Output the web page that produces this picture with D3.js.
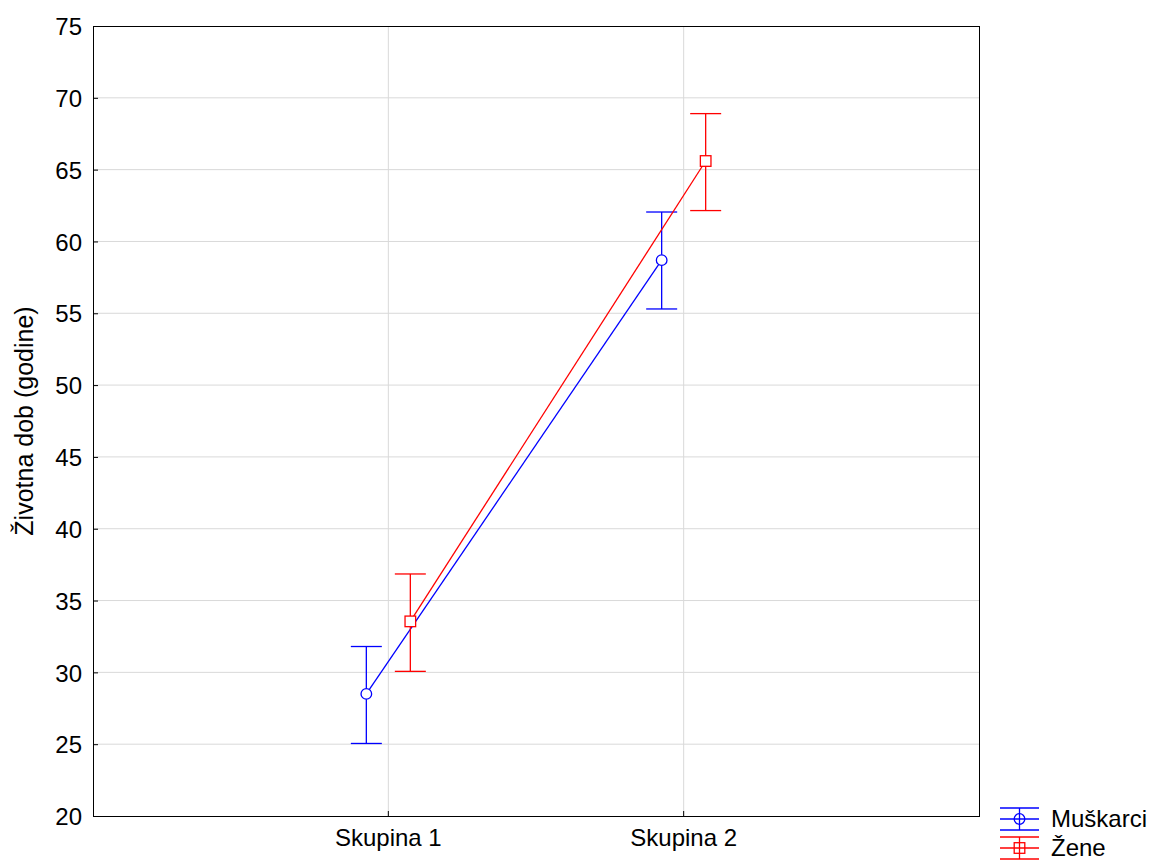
<!DOCTYPE html>
<html>
<head>
<meta charset="utf-8">
<script src="https://cdn.jsdelivr.net/npm/d3@7"></script>
<style>
body { margin: 0; background: #fff; }
text { font-family: "Liberation Sans", Arial, sans-serif; }
</style>
</head>
<body>
<script>
// data
const categories = ['Skupina 1', 'Skupina 2']
const seriesNames = ['Muškarci', 'Žene']
const seriesColors = ['#0000ff', '#ff0000']
const muskarciMean = [28.5, 58.7]
const muskarciLow = [25.05, 55.3]
const muskarciHigh = [31.8, 62.05]
const zeneMean = [33.55, 65.6]
const zeneLow = [30.07, 62.15]
const zeneHigh = [36.85, 68.9]
const yTicks = [20, 25, 30, 35, 40, 45, 50, 55, 60, 65, 70, 75]

const width = 1154
const height = 861
const plotL = 93, plotR = 979, plotT = 26, plotB = 816

const svg = d3.select('body').append('svg')
  .attr('width', width)
  .attr('height', height)

const x = d3.scaleBand()
  .domain(categories)
  .range([plotL, plotR])
  .paddingInner(0)
  .paddingOuter(0.5)
const y = d3.scaleLinear()
  .domain([20, 75])
  .range([plotB, plotT])

const cx = c => x(c) + x.bandwidth() / 2

// grid
svg.append('g')
  .selectAll('line')
  .data(yTicks.slice(1, -1))
  .join('line')
  .attr('x1', plotL).attr('x2', plotR)
  .attr('y1', d => y(d)).attr('y2', d => y(d))
  .attr('stroke', '#d9d9d9')
svg.append('g')
  .selectAll('line')
  .data(categories)
  .join('line')
  .attr('x1', d => cx(d)).attr('x2', d => cx(d))
  .attr('y1', plotT).attr('y2', plotB)
  .attr('stroke', '#d9d9d9')

// axes
const yAxis = svg.append('g')
  .attr('transform', `translate(${plotL},0)`)
  .call(d3.axisLeft(y).tickValues(yTicks).tickSizeInner(-5).tickSizeOuter(0).tickPadding(11))
const xAxis = svg.append('g')
  .attr('transform', `translate(0,${plotB})`)
  .call(d3.axisBottom(x).tickSizeInner(-5).tickSizeOuter(0).tickPadding(14))
for (const ax of [yAxis, xAxis]) {
  ax.select('.domain').remove()
  ax.selectAll('line').attr('stroke', '#000')
  ax.selectAll('text')
    .attr('fill', '#000')
    .style('font-size', '24px')
    .style('font-family', '"Liberation Sans", Arial, sans-serif')
}
yAxis.selectAll('text').attr('dy', '0.36em')
xAxis.selectAll('text').attr('dy', '0.68em')

svg.append('rect')
  .attr('x', plotL + 0.5).attr('y', plotT + 0.5)
  .attr('width', plotR - plotL).attr('height', plotB - plotT)
  .attr('fill', 'none')
  .attr('stroke', '#000')

// y title
svg.append('text')
  .attr('transform', `translate(33,${(plotT + plotB) / 2}) rotate(-90)`)
  .attr('text-anchor', 'middle')
  .style('font-size', '25px')
  .text('Životna dob (godine)')

// series
const series = [
  { name: seriesNames[0], color: seriesColors[0], mean: muskarciMean, low: muskarciLow, high: muskarciHigh, shift: -22, shape: 'circle' },
  { name: seriesNames[1], color: seriesColors[1], mean: zeneMean, low: zeneLow, high: zeneHigh, shift: 22, shape: 'square' }
]
const cap = 15.5
const line = d3.line()

series.forEach(s => {
  const g = svg.append('g')
  const pts = categories.map((c, i) => ({
    x: cx(c) + s.shift, m: s.mean[i], lo: s.low[i], hi: s.high[i]
  }))
  g.append('path')
    .attr('d', line(pts.map(p => [p.x, y(p.m)])))
    .attr('fill', 'none')
    .attr('stroke', s.color)
    .attr('stroke-width', 1.3)
  const eb = g.selectAll('g.eb').data(pts).join('g')
  eb.append('line')
    .attr('x1', p => p.x).attr('x2', p => p.x)
    .attr('y1', p => y(p.lo)).attr('y2', p => y(p.hi))
    .attr('stroke', s.color).attr('stroke-width', 1.3)
  eb.selectAll('line.cap').data(p => [[p.x, p.lo], [p.x, p.hi]]).join('line')
    .attr('class', 'cap')
    .attr('x1', d => d[0] - cap).attr('x2', d => d[0] + cap)
    .attr('y1', d => y(d[1])).attr('y2', d => y(d[1]))
    .attr('stroke', s.color).attr('stroke-width', 1.3)
  if (s.shape === 'circle') {
    eb.append('circle')
      .attr('cx', p => p.x).attr('cy', p => y(p.m)).attr('r', 5.3)
      .attr('fill', '#fff').attr('stroke', s.color).attr('stroke-width', 1.3)
  } else {
    eb.append('rect')
      .attr('x', p => p.x - 5.3).attr('y', p => y(p.m) - 5.3)
      .attr('width', 10.6).attr('height', 10.6)
      .attr('fill', '#fff').attr('stroke', s.color).attr('stroke-width', 1.3)
  }
})

// legend
const legend = svg.append('g')
series.forEach((s, i) => {
  const my = 819 + i * 29
  const g = legend.append('g')
  const lx0 = 1000, lx1 = 1039, lc = 1019.5
  for (const dy of [-11, 0, 11]) {
    g.append('line')
      .attr('x1', lx0).attr('x2', lx1)
      .attr('y1', my + dy).attr('y2', my + dy)
      .attr('stroke', s.color).attr('stroke-width', 1.3)
  }
  g.append('line')
    .attr('x1', lc).attr('x2', lc)
    .attr('y1', my - 11).attr('y2', my + 11)
    .attr('stroke', s.color).attr('stroke-width', 1.3)
  if (s.shape === 'circle') {
    g.append('circle').attr('cx', lc).attr('cy', my).attr('r', 5.3)
      .attr('fill', 'none').attr('stroke', s.color).attr('stroke-width', 1.3)
  } else {
    g.append('rect').attr('x', lc - 5.3).attr('y', my - 5.3)
      .attr('width', 10.6).attr('height', 10.6)
      .attr('fill', 'none').attr('stroke', s.color).attr('stroke-width', 1.3)
  }
  g.append('text')
    .attr('x', 1051).attr('y', my + 8)
    .style('font-size', '24px')
    .text(s.name)
})
</script>
</body>
</html>
